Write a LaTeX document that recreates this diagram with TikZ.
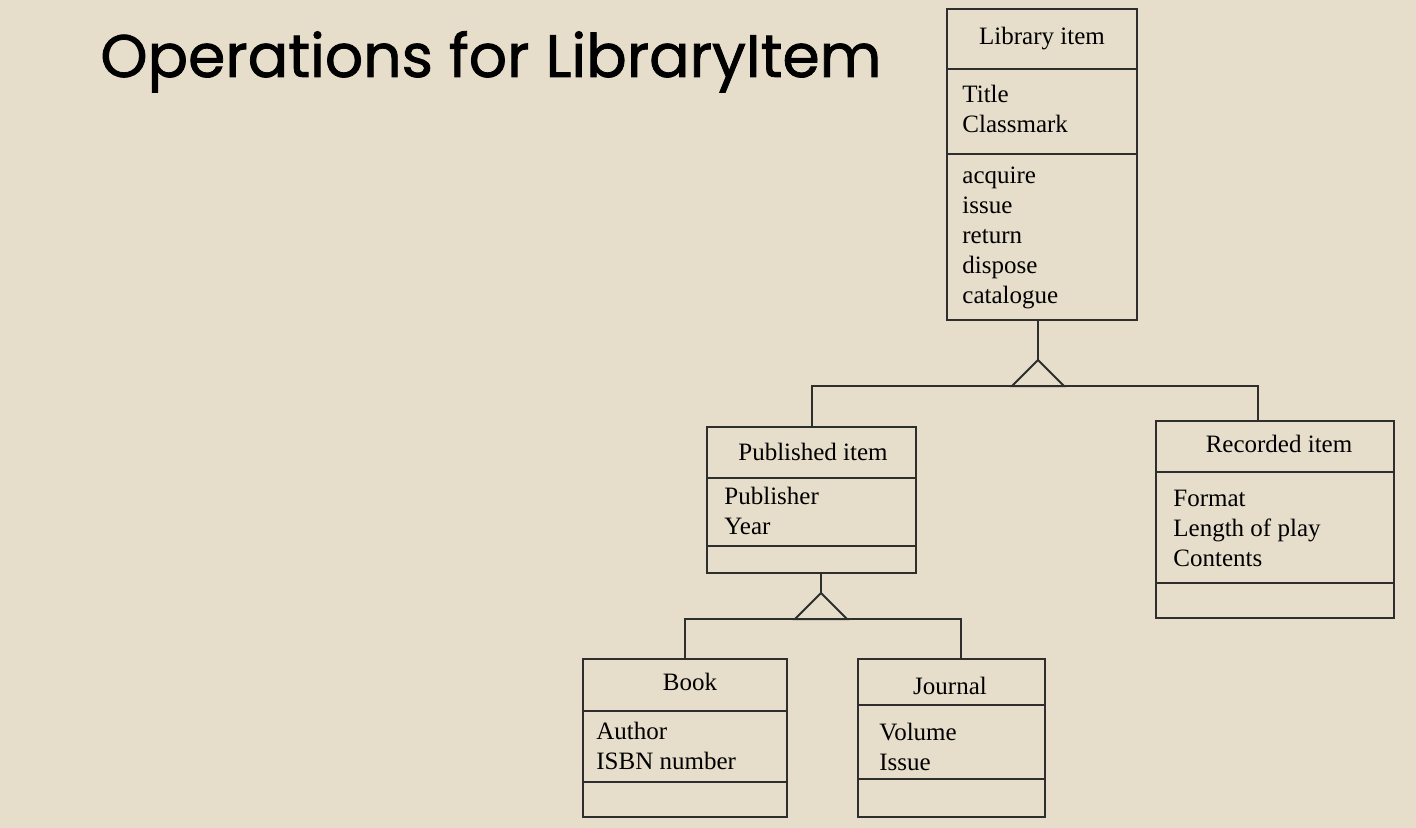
\documentclass[tikz,border=0pt]{standalone}
\usepackage{fontspec}
\setmainfont{Liberation Serif}
\newfontfamily\titlefont[FakeBold=1.3]{Poppins}
\usetikzlibrary{positioning}
\definecolor{slidebg}{HTML}{E6DDCA}
\definecolor{umlink}{HTML}{2E2E2E}
\tikzstyle{arrow} = [line width=1pt,draw=umlink]

\begin{document}
\begin{tikzpicture}[x=0.5pt,y=-0.5pt]
        \tikzstyle{every node}=[font=\fontsize{12.5}{15}\selectfont]
        \tikzstyle{classbox} = [rectangle, draw=umlink, line width=1pt, inner sep=0pt]
        \tikzstyle{heading} = [inner sep=0pt, anchor=center]
        \tikzstyle{attr} = [inner sep=0pt, anchor=west, align=left]
        \tikzstyle{divider} = [line width=1pt, draw=umlink]

        \fill[slidebg] (0,0) rectangle (1416,828);
        \useasboundingbox (0,0) rectangle (1416,828);

        \node[inner sep=0pt, anchor=base west, font=\titlefont\fontsize{30}{36}\selectfont](title) at (100,77) {Operations for LibraryItem};

        % class boxes
        \node[classbox, minimum width=95pt, minimum height=155.5pt](lib) at (1042,164.5) {};
        \node[classbox, minimum width=104.5pt, minimum height=73pt](pub) at (811.5,500) {};
        \node[classbox, minimum width=119pt, minimum height=98.5pt](rec) at (1275,519.5) {};
        \node[classbox, minimum width=102pt, minimum height=79pt](book) at (685,738) {};
        \node[classbox, minimum width=93.5pt, minimum height=79pt](jour) at (951.5,738) {};

        % compartments
        \draw[divider] (lib.west |- 0,69) -- (lib.east |- 0,69);
        \draw[divider] (lib.west |- 0,154) -- (lib.east |- 0,154);
        \draw[divider] (pub.west |- 0,478) -- (pub.east |- 0,478);
        \draw[divider] (pub.west |- 0,546) -- (pub.east |- 0,546);
        \draw[divider] (rec.west |- 0,472) -- (rec.east |- 0,472);
        \draw[divider] (rec.west |- 0,583) -- (rec.east |- 0,583);
        \draw[divider] (book.west |- 0,711) -- (book.east |- 0,711);
        \draw[divider] (book.west |- 0,782) -- (book.east |- 0,782);
        \draw[divider] (jour.west |- 0,705) -- (jour.east |- 0,705);
        \draw[divider] (jour.west |- 0,779) -- (jour.east |- 0,779);

        % texts
        \node[heading](libname) at (1042,39) {Library item};
        \node[attr](libatt) at (962,109) {Title\\Classmark};
        \node[attr](libops) at (962,238) {acquire\\issue\\return\\dispose\\catalogue};
        \node[heading](pubname) at (813,452) {Published item};
        \node[attr](pubatt) at (724,511) {Publisher\\Year};
        \node[heading](recname) at (1279,444) {Recorded item};
        \node[attr](recatt) at (1173,528) {Format\\Length of play\\Contents};
        \node[heading](bookname) at (690,682) {Book};
        \node[heading](journame) at (950,686) {Journal};
        \node[attr](bookatt) at (596,746) {Author\\ISBN number};
        \node[attr](jouratt) at (879,747) {Volume\\Issue};

        % generalisation from Library item
        \coordinate(top1) at (1038,360);
        \coordinate(bar1) at (1038,386);
        \draw[arrow] (lib.south -| top1) -- (top1);
        \draw[arrow] (top1) -- ++(-26,26) -- ++(52,0) -- cycle;
        \draw[arrow] (pub.north) |- (bar1) -| (rec.north -| 1258,0);

        % generalisation from Published item
        \coordinate(top2) at (821,593);
        \coordinate(bar2) at (821,619);
        \draw[arrow] (pub.south -| top2) -- (top2);
        \draw[arrow] (top2) -- ++(-26,26) -- ++(52,0) -- cycle;
        \draw[arrow] (book.north) |- (bar2) -| (jour.north -| 961,0);
\end{tikzpicture}
\end{document}
